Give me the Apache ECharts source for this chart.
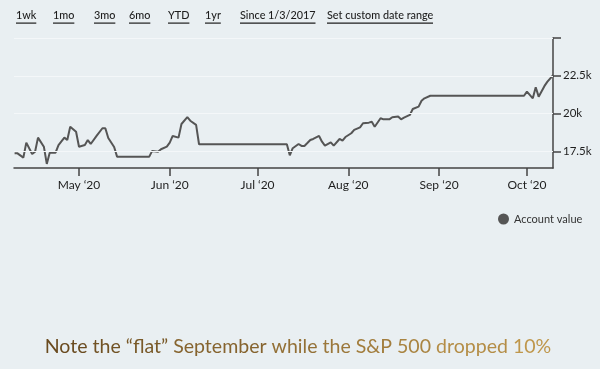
<!DOCTYPE html>
<html>
<head>
<meta charset="utf-8">
<script src="https://cdn.jsdelivr.net/npm/echarts@6/dist/echarts.min.js"></script>
<style>
html,body{margin:0;padding:0;background:#e9eff2;}
#c{width:600px;height:369px;}
</style>
</head>
<body>
<div id="c"></div>
<script>
// ---- data ----
const dates = [
 '2020-04-09','2020-04-10','2020-04-12','2020-04-13','2020-04-15','2020-04-16','2020-04-17','2020-04-19','2020-04-20','2020-04-21',
 '2020-04-23','2020-04-24','2020-04-26','2020-04-27','2020-04-28','2020-04-30','2020-05-01','2020-05-03','2020-05-04','2020-05-05',
 '2020-05-07','2020-05-09','2020-05-10','2020-05-11','2020-05-13','2020-05-14','2020-05-25','2020-05-26','2020-05-28','2020-05-29',
 '2020-05-31','2020-06-01','2020-06-02','2020-06-04','2020-06-05','2020-06-07','2020-06-08','2020-06-10','2020-06-11','2020-07-11',
 '2020-07-12','2020-07-13','2020-07-15','2020-07-16','2020-07-17','2020-07-18','2020-07-19','2020-07-20','2020-07-22','2020-07-23',
 '2020-07-24','2020-07-26','2020-07-27','2020-07-29','2020-07-30','2020-07-31','2020-08-02','2020-08-03','2020-08-05','2020-08-06',
 '2020-08-08','2020-08-09','2020-08-10','2020-08-12','2020-08-13','2020-08-15','2020-08-16','2020-08-18','2020-08-19','2020-08-20',
 '2020-08-22','2020-08-23','2020-08-25','2020-08-26','2020-08-27','2020-08-29','2020-09-30','2020-10-01','2020-10-03','2020-10-04',
 '2020-10-05','2020-10-07','2020-10-08','2020-10-10'
];
const accountValue = [
 17370,17370,17090,18080,17330,17480,18410,17810,16670,17410,
 17410,17910,18410,18250,19130,18800,17810,17920,18250,17990,
 18520,19030,19030,18390,17790,17150,17150,17530,17480,17640,
 17810,18080,18520,18410,19310,19760,19530,19250,17970,17970,
 17240,17710,17990,17860,17860,18050,18250,18320,18520,18140,
 17880,18100,17880,18320,18210,18450,18700,18920,19090,19360,
 19400,19460,19130,19690,19620,19620,19760,19800,19620,19730,
 19910,20300,20460,20850,21010,21180,21180,21450,21010,21740,
 21120,21830,22110,22550
];
const monthTicks = ['2020-05-01','2020-06-01','2020-07-01','2020-08-01','2020-09-01','2020-10-01'];
const monthLabels = ['May ‘20','Jun ‘20','Jul ‘20','Aug ‘20','Sep ‘20','Oct ‘20'];
const yTickValues = [17500, 20000, 22500, 25000];
const yLabelValues = [17500, 20000, 22500];
const links = ['1wk','1mo','3mo','6mo','YTD','1yr','Since 1/3/2017','Set custom date range'];
const linkLeft = [16, 53, 94, 129, 168, 205, 240, 327];
const note = 'Note the “flat” September while the S&P 500 dropped 10%';

// ---- build ----
const FONT = 'Lato, "Open Sans", sans-serif';
const DAY = 86400000;
function toTs(s){ const p = s.split('-').map(Number); return new Date(p[0], p[1]-1, p[2]).getTime(); }
const may1 = toTs('2020-05-01');
const tickTs = monthTicks.map(toTs);
const seriesData = dates.map((d, i) => [toTs(d), accountValue[i]]);

const cv = document.createElement('canvas').getContext('2d');
function measure(text, size, family){ cv.font = size + 'px ' + family; return cv.measureText(text).width; }
const linkSize = Math.max(10, Math.min(14, 12.6 * 106 / measure('Set custom date range', 12.6, FONT)));
const noteSize = Math.max(16, Math.min(26, 24 * 507 / measure(note, 24, FONT)));

const graphics = [];
links.forEach((t, i) => {
  const w = measure(t, linkSize, FONT);
  graphics.push({type:'text', left: linkLeft[i], top: 10, silent:true,
    style:{text:t, font: '500 ' + linkSize + 'px ' + FONT, fill:'#1e1e1e'}});
  graphics.push({type:'rect', shape:{x:linkLeft[i], y:22.5, width:w, height:1.2}, silent:true,
    style:{fill:'#1e1e1e'}});
});

// note text: one text element, each word tinted from dark brown (left) to gold (right)
const c0 = [0x66,0x48,0x1e], c1 = [0xc2,0x9a,0x4e];
const words = note.split(' ');
const totalW = measure(note, noteSize, FONT);
const spaceW = measure(' ', noteSize, FONT);
let acc = 0;
const rich = {};
const segs = words.map((wd, i) => {
  const w = measure(wd, noteSize, FONT);
  const t = Math.min(1, (acc + w/2) / totalW);
  acc += w + spaceW;
  rich['w' + i] = {fill: 'rgb(' + c0.map((a,k) => Math.round(a + (c1[k]-a)*t)).join(',') + ')',
                   font: noteSize + 'px ' + FONT};
  return '{w' + i + '|' + wd + '}';
});
graphics.push({type:'text', x: 298, y: 347, silent:true,
  style:{text: segs.join(' '), rich: rich, font: noteSize + 'px ' + FONT, fill:'#977135',
    textAlign:'center', textVerticalAlign:'middle'}});

const chart = echarts.init(document.getElementById('c'), null, {renderer:'canvas'});
chart.setOption({
  backgroundColor:'#e9eff2',
  animation:false,
  textStyle:{fontFamily:FONT},
  grid:{left:14, right:47, top:38, bottom:201, containLabel:false},
  legend:{data:['Account value'], left:493, top:208.5, icon:'circle', itemWidth:11, itemHeight:11, itemGap:6,
    textStyle:{fontSize:11, color:'#333', fontFamily:FONT}, selectedMode:false},
  xAxis:{type:'value', min: may1 - 22.2*DAY, max: may1 + 161.9*DAY, scale:true,
    axisLine:{show:true, onZero:false, lineStyle:{color:'#444', width:1.5}},
    axisTick:{show:true, length:8, customValues: tickTs, lineStyle:{color:'#444', width:1.5}},
    axisLabel:{customValues: tickTs, margin:11, color:'#1e1e1e', fontSize:12, fontFamily:FONT,
      formatter: v => { const i = tickTs.indexOf(v); return i >= 0 ? monthLabels[i] : ''; }},
    splitLine:{show:false}},
  yAxis:{type:'value', position:'right', min:16400, max:25000,
    axisLine:{show:true, lineStyle:{color:'#444', width:1.5}},
    axisTick:{show:true, length:8, customValues: yTickValues, lineStyle:{color:'#444', width:1.5}},
    axisLabel:{customValues: yLabelValues, margin:10, color:'#1e1e1e', fontSize:11.5, fontFamily:FONT,
      formatter: v => (v/1000) + 'k'},
    splitLine:{show:false}},
  series:[{
    name:'Account value', type:'line', data: seriesData, showSymbol:false, symbol:'circle',
    color:'#555', lineStyle:{color:'#555', width:2}, z:3,
    markLine:{silent:true, symbol:'none', label:{show:false}, animation:false,
      lineStyle:{color:'#f4f7f9', width:1.2, type:'solid'},
      data: yTickValues.map(v => ({yAxis:v}))}
  }],
  graphic: graphics
});
</script>
</body>
</html>
